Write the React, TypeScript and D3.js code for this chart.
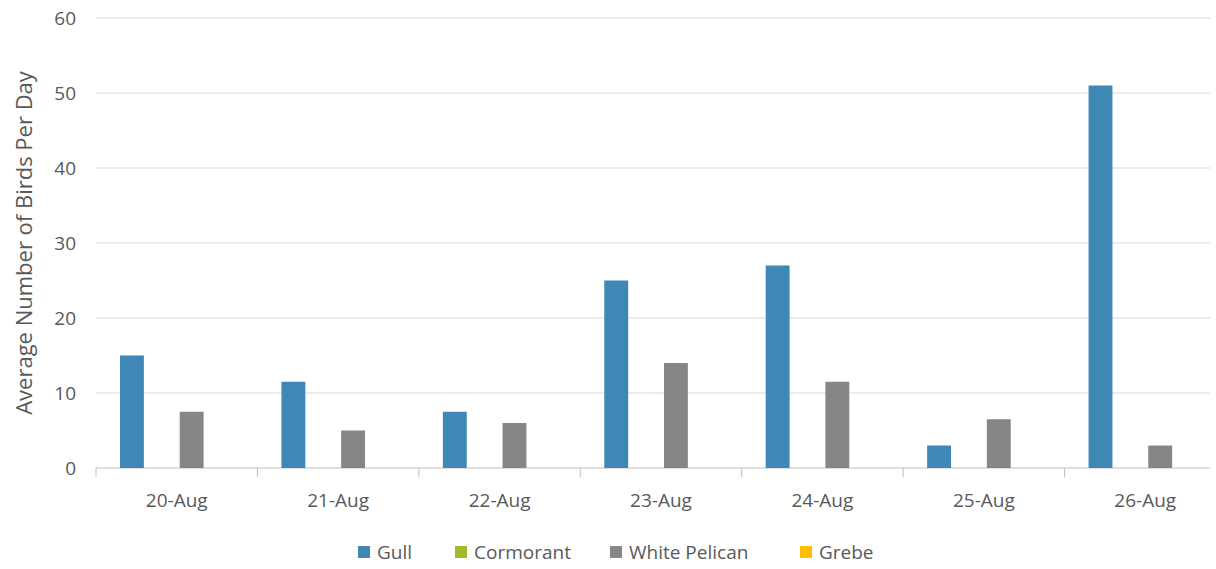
import * as d3 from 'd3';

const categories = ['20-Aug', '21-Aug', '22-Aug', '23-Aug', '24-Aug', '25-Aug', '26-Aug'];
const seriesNames = ['Gull', 'Cormorant', 'White Pelican', 'Grebe'];
const gull = [15, 11.5, 7.5, 25, 27, 3, 51];
const cormorant = [0, 0, 0, 0, 0, 0, 0];
const pelican = [7.5, 5, 6, 14, 11.5, 6.5, 3];
const grebe = [0, 0, 0, 0, 0, 0, 0];
const yTicks = [0, 10, 20, 30, 40, 50, 60];
const colors = ['#3f88b5', '#a2b92b', '#868686', '#ffc000'];

const W = 1216;
const H = 569;
const M = { top: 18, right: -10, bottom: 101, left: 96 };
const FONT = '"Open Sans", "DejaVu Sans", sans-serif';
const TXT = '#595959';

export default function App() {
  const values = [gull, cormorant, pelican, grebe];
  const x = d3.scaleBand().domain(categories).range([M.left, W - M.right]);
  const inner = d3.scaleBand().domain(seriesNames).range([24, x.bandwidth() - 24]).paddingInner(0.2);
  const y = d3.scaleLinear().domain([0, 60]).range([H - M.bottom, M.top]);
  const legendX = [358, 455, 610, 800];

  return (
    <svg width={W} height={H} style={{ position: 'absolute', left: 0, top: 0, background: '#fff' }}>
      {yTicks.map(t => (
        <g key={t}>
          {t > 0 && <line x1={M.left} x2={1210} y1={y(t)} y2={y(t)} stroke="#d9d9d9" strokeWidth={1} />}
          <text x={76} y={y(t)} dy="0.35em" textAnchor="end" fontFamily={FONT} fontSize={19} fill={TXT}>{t}</text>
        </g>
      ))}
      <line x1={M.left} x2={1210} y1={y(0)} y2={y(0)} stroke="#bfbfbf" />
      {categories.map((c, i) => (
        <g key={c}>
          <line x1={x(c)!} x2={x(c)!} y1={y(0)} y2={y(0) + 9} stroke="#bfbfbf" />
          <text x={x(c)! + x.bandwidth() / 2} y={507} textAnchor="middle" fontFamily={FONT} fontSize={19} fill={TXT}>{c}</text>
          {seriesNames.map((s, si) => (
            <rect key={s} x={x(c)! + inner(s)!} width={inner.bandwidth()} y={y(values[si][i])}
              height={y(0) - y(values[si][i])} fill={colors[si]} />
          ))}
        </g>
      ))}
      <text transform={`translate(32,${(y(0) + y(60)) / 2 + 0}) rotate(-90)`} textAnchor="middle" fontFamily={FONT} fontSize={22} fill={TXT}>
        Average Number of Birds Per Day
      </text>
      {seriesNames.map((s, i) => (
        <g key={s} transform={`translate(${legendX[i]},552)`}>
          <rect x={0} y={-6} width={12} height={12} fill={colors[i]} />
          <text x={19} y={0} dy="0.35em" fontFamily={FONT} fontSize={19} fill={TXT}>{s}</text>
        </g>
      ))}
    </svg>
  );
}
